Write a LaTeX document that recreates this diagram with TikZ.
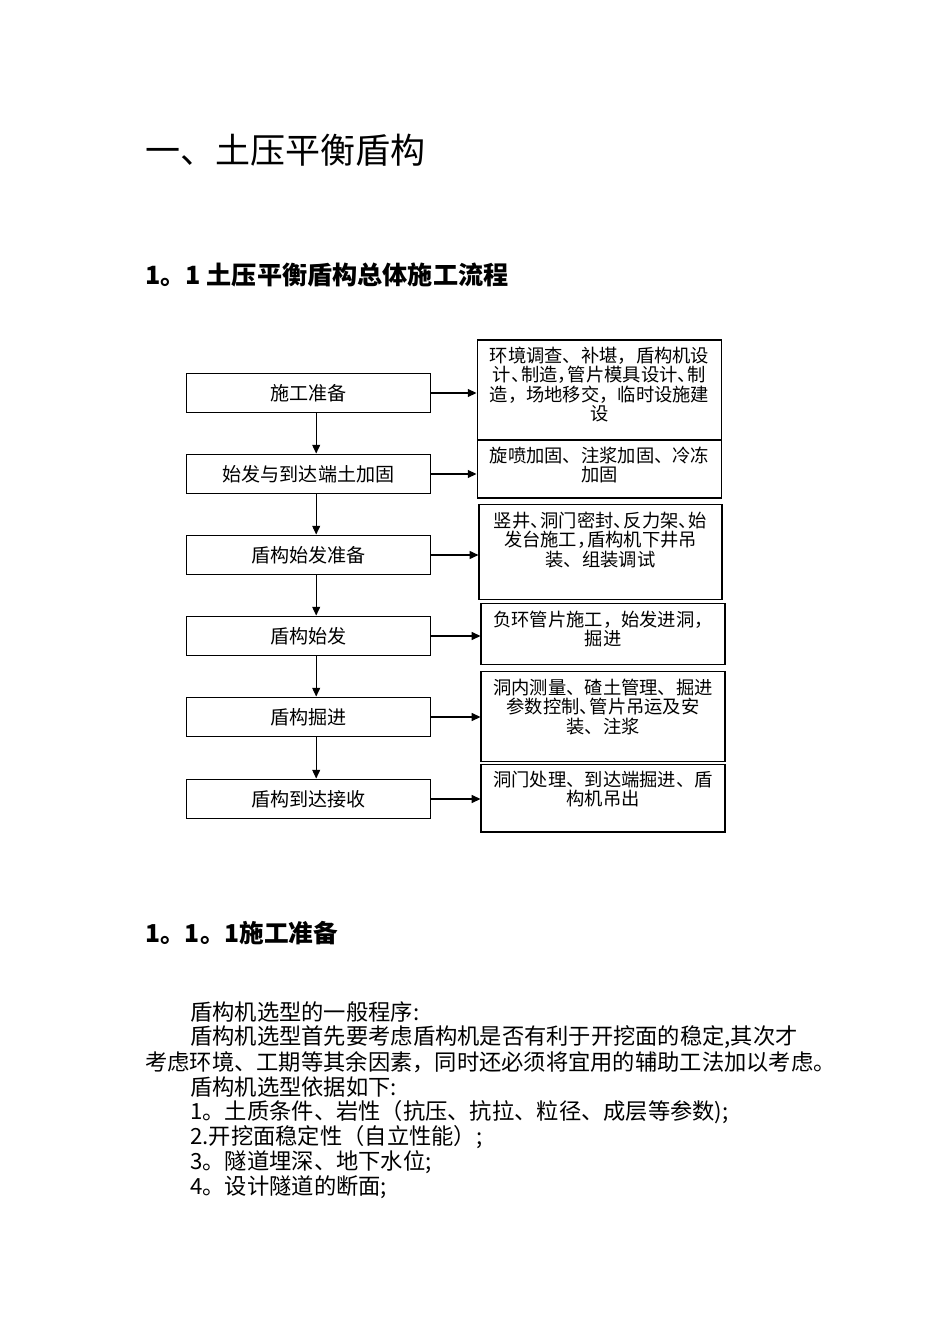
\documentclass[tikz,border=0pt]{standalone}
\usepackage{fontspec}
\setmainfont{Noto Sans CJK SC}
\usepackage{tikz}
\usetikzlibrary{calc}
\usetikzlibrary{arrows.meta}
\newcommand\sempit[1]{#1\kern-0.45em}

\begin{document}
\begin{tikzpicture}[x=0.0221cm,y=-0.0221cm,
        kotak/.style={draw, line width=0.7pt, rectangle, inner sep=0pt, minimum width=5.41cm},
        kiri/.style={kotak, minimum height=0.88cm, font=\fontsize{12}{14}\selectfont},
        isi/.style={anchor=north, inner sep=0pt, align=center, font=\fontsize{11.5}{12.2}\selectfont},
        teks/.style={anchor=west, inner sep=0pt, font=\fontsize{14}{16}\selectfont},
        panah/.style={line width=0.7pt, -{Triangle[length=5.5pt,width=5pt]}}]
        %BATAS
        \useasboundingbox[fill=white] (0,0) rectangle (950,1344);
        %JUDUL
        \node[anchor=west, inner sep=0pt, font=\fontsize{22}{26}\selectfont] (judul) at (145,150) {一、土压平衡盾构};
        \node[anchor=west, inner sep=0pt, font=\fontsize{15.8}{18}\selectfont\bfseries] (sub) at (145,275) {1。1 土压平衡盾构总体施工流程};

        %KOTAK KIRI
        \node[kiri] (l1) at (308.5,393) {施工准备};
        \node[kiri] (l2) at (308.5,474) {始发与到达端土加固};
        \node[kiri] (l3) at (308.5,555) {盾构始发准备};
        \node[kiri] (l4) at (308.5,636) {盾构始发};
        \node[kiri] (l5) at (308.5,717) {盾构掘进};
        \node[kiri] (l6) at (308.5,799) {盾构到达接收};

        %KOTAK KANAN
        \node[kotak, minimum height=2.21cm] (r1) at (599.5,390) {};
        \node[kotak, minimum height=1.28cm] (r2) at (599.5,469) {};
        \node[kotak, minimum width=5.37cm, minimum height=2.08cm] (r3) at (600.5,552) {};
        \node[kotak, minimum width=5.39cm, minimum height=1.33cm] (r4) at (603,634) {};
        \node[kotak, minimum width=5.39cm, minimum height=1.97cm] (r5) at (603,716.5) {};
        \node[kotak, minimum width=5.39cm, minimum height=1.50cm] (r6) at (603,798) {};
        \node[isi] (t1) at ([yshift=-0.16cm]r1.north) {环境调查、补堪，盾构机设\\计\sempit{、}制造\sempit{，}管片模具设计\sempit{、}制\\造，场地移交，临时设施建\\设};
        \node[isi] (t2) at ([yshift=-0.16cm]r2.north) {旋喷加固、注浆加固、冷冻\\加固};
        \node[isi] (t3) at ([yshift=-0.16cm]r3.north) {竖井\sempit{、}洞门密封\sempit{、}反力架\sempit{、}始\\发台施工\sempit{，}盾构机下井吊\\装、组装调试};
        \node[isi] (t4) at ([yshift=-0.16cm]r4.north) {负环管片施工，始发进洞，\\掘进};
        \node[isi] (t5) at ([yshift=-0.16cm]r5.north) {洞内测量、碴土管理、掘进\\参数控制\sempit{、}管片吊运及安\\装、注浆};
        \node[isi] (t6) at ([yshift=-0.16cm]r6.north) {洞门处理、到达端掘进、盾\\构机吊出};

        %PANAH
        \draw[panah] ([xshift=0.17cm]l1.south) -- ([xshift=0.17cm]l2.north);
        \draw[panah] ([xshift=0.17cm]l2.south) -- ([xshift=0.17cm]l3.north);
        \draw[panah] ([xshift=0.17cm]l3.south) -- ([xshift=0.17cm]l4.north);
        \draw[panah] ([xshift=0.17cm]l4.south) -- ([xshift=0.17cm]l5.north);
        \draw[panah] ([xshift=0.17cm]l5.south) -- ([xshift=0.17cm]l6.north);
        \draw[panah] (l1.east) -- (l1.east -| r1.west);
        \draw[panah] (l2.east) -- (l2.east -| r2.west);
        \draw[panah] (l3.east) -- (l3.east -| r3.west);
        \draw[panah] (l4.east) -- (l4.east -| r4.west);
        \draw[panah] (l5.east) -- (l5.east -| r5.west);
        \draw[panah] (l6.east) -- (l6.east -| r6.west);

        %TEKS
        \node[anchor=west, inner sep=0pt, font=\fontsize{15.5}{18}\selectfont\bfseries] (sub2) at (145,933) {1。1。1施工准备};
        \node[teks] (p1) at (190,1012) {盾构机选型的一般程序:};
        \node[teks] (p2) at (190,1037) {盾构机选型首先要考虑盾构机是否有利于开挖面的稳定,其次才};
        \node[teks] (p3) at (145,1062) {考虑环境、工期等其余因素，同时还必须将宜用的辅助工法加以考虑。};
        \node[teks] (p4) at (190,1087) {盾构机选型依据如下:};
        \node[teks] (p5) at (190,1112) {1。土质条件、岩性（抗压、抗拉、粒径、成层等参数);};
        \node[teks] (p6) at (190,1137) {2.开挖面稳定性（自立性能）;};
        \node[teks] (p7) at (190,1162) {3。隧道埋深、地下水位;};
        \node[teks] (p8) at (190,1187) {4。设计隧道的断面;};
    \end{tikzpicture}
\end{document}
